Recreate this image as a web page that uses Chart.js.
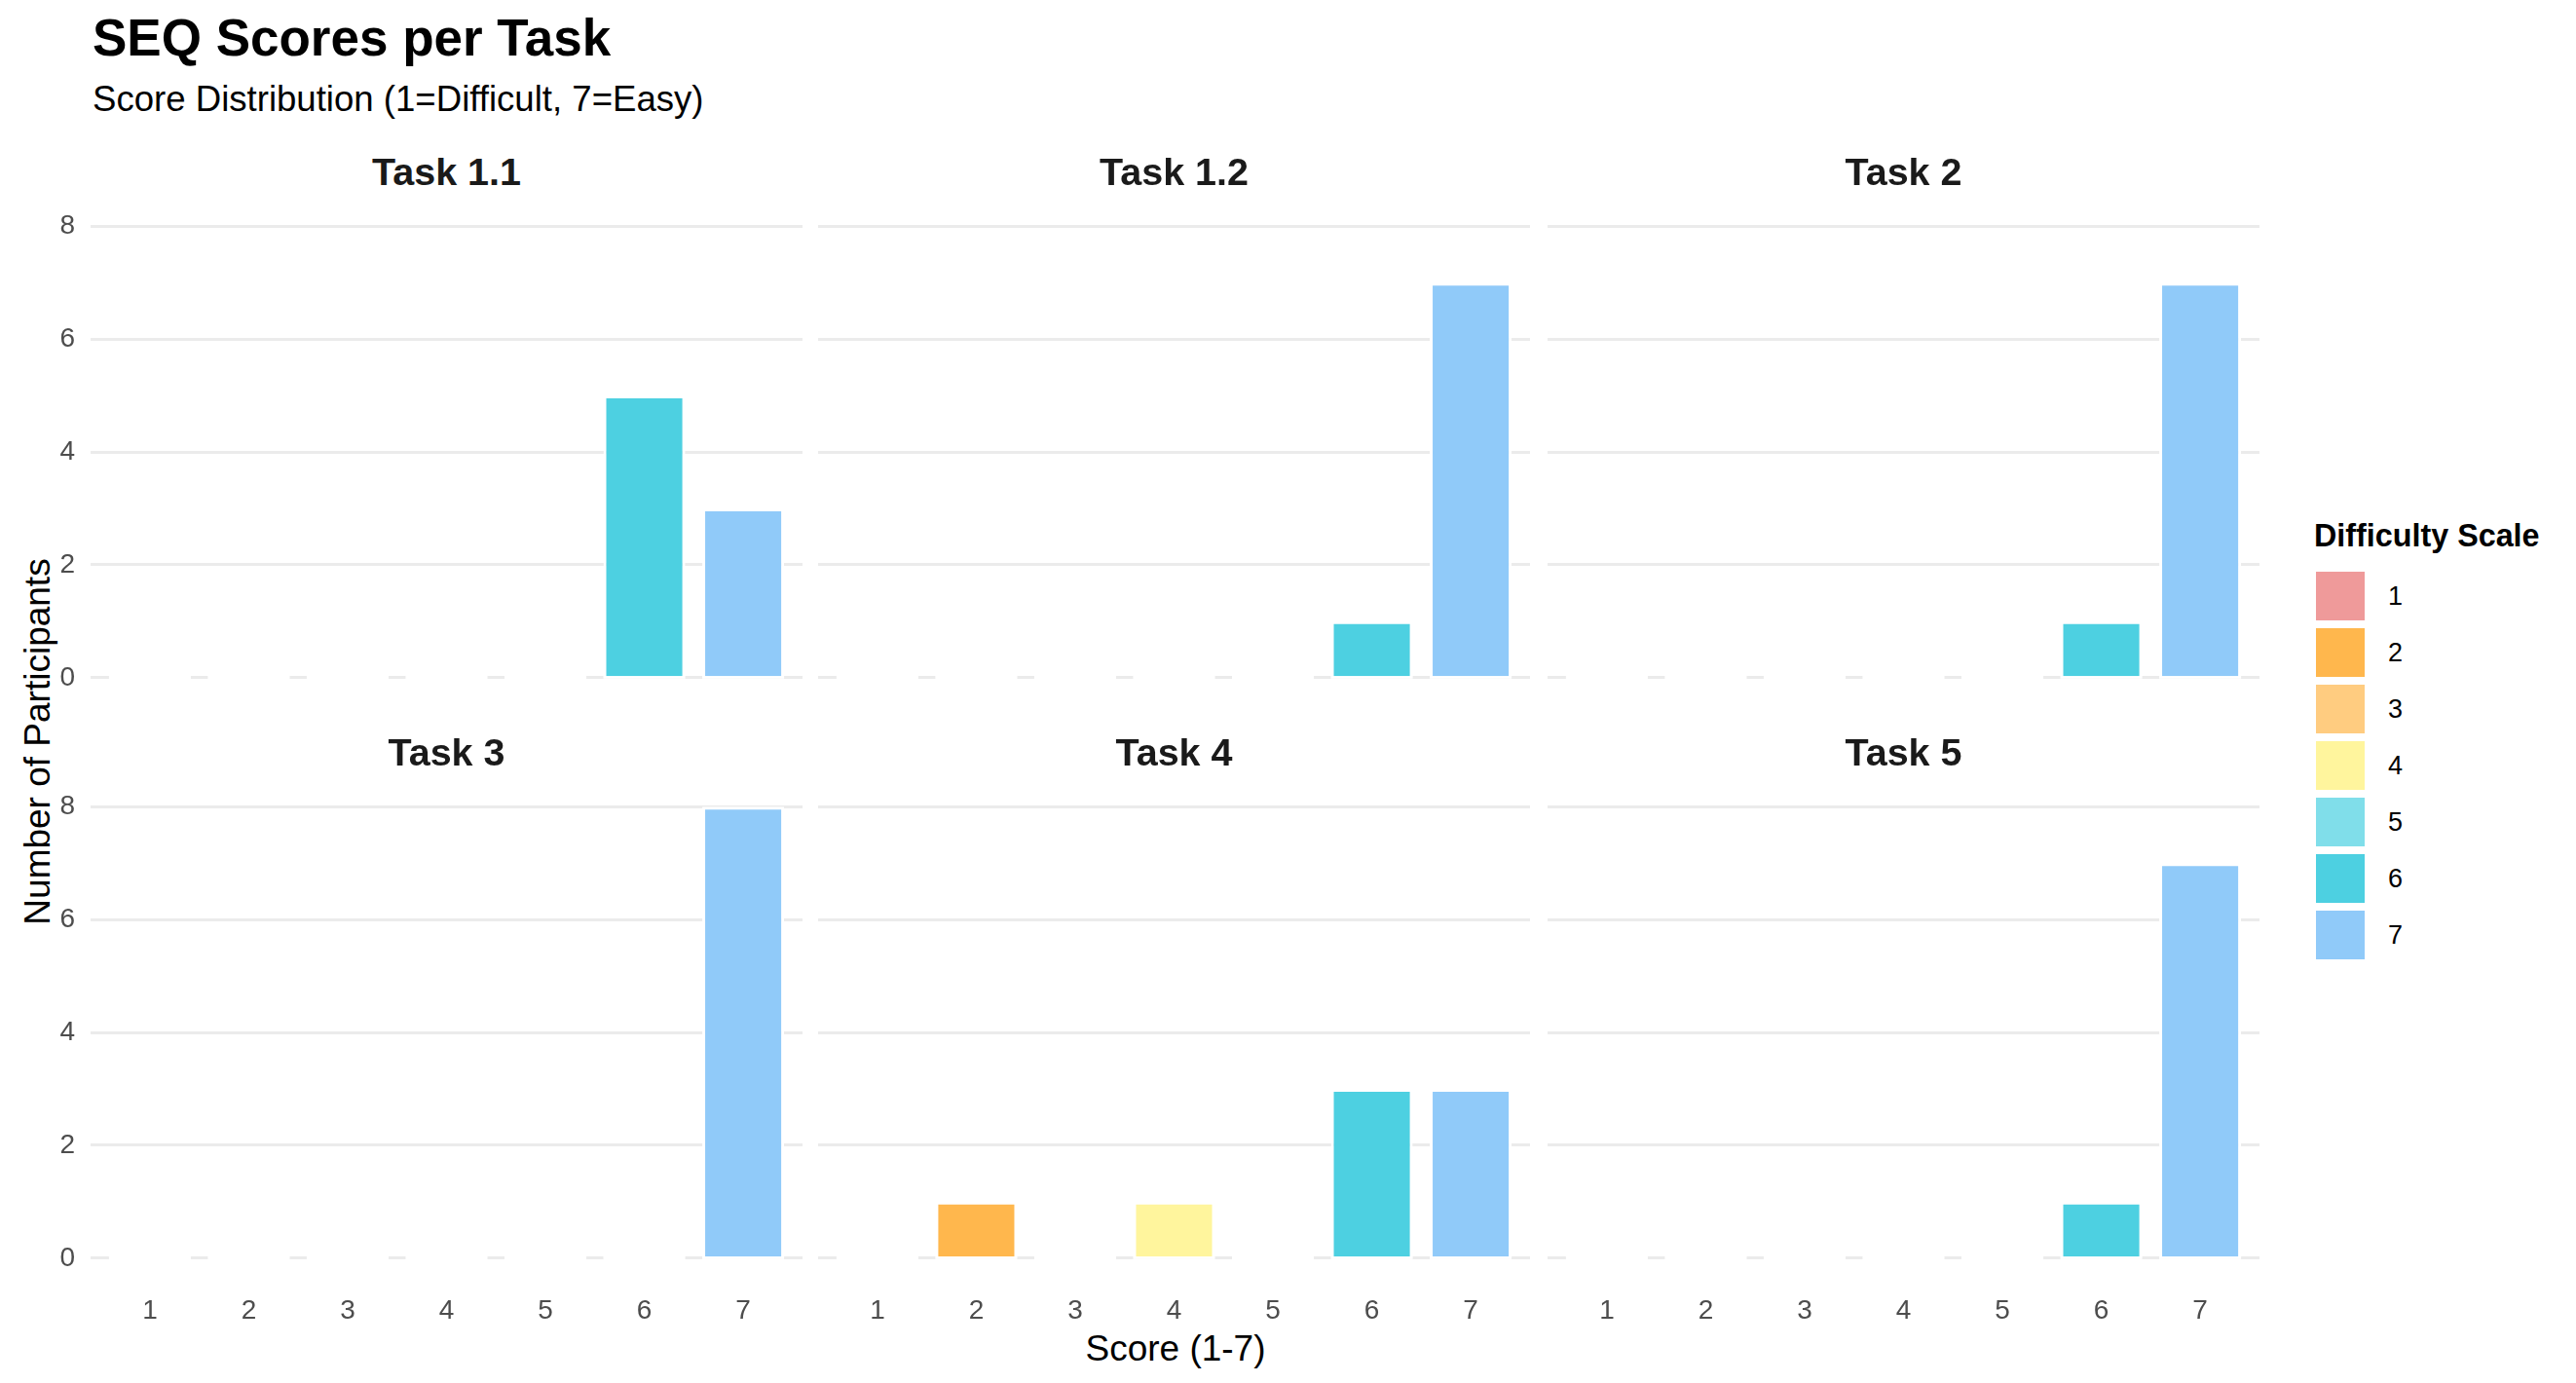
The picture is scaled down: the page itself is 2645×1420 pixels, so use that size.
<!DOCTYPE html>
<html lang="en">
<head>
    <meta charset="UTF-8">
    <title>SEQ Scores per Task</title>
    <script src="https://cdn.jsdelivr.net/npm/chart.js@4.4.1/dist/chart.umd.min.js"></script>
    <style>
        body {
            margin: 0;
            width: 2645px;
            height: 1420px;
            overflow: hidden;
            background: #ffffff;
            font-family: 'Liberation Sans', Arial, sans-serif;
            position: relative;
        }
        .txt {
            position: absolute;
            line-height: 1;
            white-space: nowrap;
        }
        .title { left: 95px; top: 12px; font-size: 53px; font-weight: bold; color: #000; }
        .subtitle { left: 95px; top: 84px; font-size: 36.6px; color: #000; }
        .strip { font-size: 39.5px; font-weight: bold; color: #1a1a1a; text-align: center; width: 731px; }
        .xtitle { font-size: 37px; color: #000; text-align: center; width: 1000px; left: 707px; top: 1366px; }
        .ytitle { font-size: 37px; color: #000; text-align: center; width: 800px; left: -362px; top: 743px; transform: rotate(-90deg); }
        .legend-title { left: 2376px; top: 534px; font-size: 32.3px; font-weight: bold; color: #000; }
        .key { position: absolute; width: 50px; height: 50px; left: 2378px; }
        .key-label { font-size: 27px; color: #000; left: 2452px; }
        canvas { position: absolute; }
    </style>
</head>
<body>
    <div class="txt title">SEQ Scores per Task</div>
    <div class="txt subtitle">Score Distribution (1=Difficult, 7=Easy)</div>
    <div class="txt xtitle">Score (1-7)</div>
    <div class="txt ytitle">Number of Participants</div>
    <div class="txt legend-title">Difficulty Scale</div>
    <div id="legend"></div>
    <div id="panels"></div>

    <script>
        // data
        const SCORES = [1, 2, 3, 4, 5, 6, 7];
        const TASKS = ['Task 1.1', 'Task 1.2', 'Task 2', 'Task 3', 'Task 4', 'Task 5'];
        const TASK_1_1 = [0, 0, 0, 0, 0, 5, 3];
        const TASK_1_2 = [0, 0, 0, 0, 0, 1, 7];
        const TASK_2 = [0, 0, 0, 0, 0, 1, 7];
        const TASK_3 = [0, 0, 0, 0, 0, 0, 8];
        const TASK_4 = [0, 1, 0, 1, 0, 3, 3];
        const TASK_5 = [0, 0, 0, 0, 0, 1, 7];
        const Y_TICKS = [0, 2, 4, 6, 8];
        const SCORE_COLORS = ['#EF9A9A', '#FFB74D', '#FFCC80', '#FFF59D', '#80DEEA', '#4DD0E1', '#90CAF9'];

        const COUNTS = [TASK_1_1, TASK_1_2, TASK_2, TASK_3, TASK_4, TASK_5];

        // panel geometry
        const PANEL_LEFT = [93, 840, 1589];
        const PANEL_TOP = [209, 805];
        const PANEL_W = 731;
        const PANEL_H = 510;
        const YW = 80, XH = 70, PADT = 50, PADR = 20;
        const TICK_FONT = { family: "'Liberation Sans', Arial, sans-serif", size: 28 };

        // white strip under each bar, hides the zero gridline like the bar outline does
        const baseCover = {
            id: 'baseCover',
            beforeDatasetsDraw(chart) {
                const ctx = chart.ctx;
                const meta = chart.getDatasetMeta(0);
                ctx.save();
                ctx.fillStyle = '#ffffff';
                meta.data.forEach(bar => {
                    const p = bar.getProps(['x', 'base', 'width'], true);
                    ctx.fillRect(p.x - p.width / 2, p.base - 2.5, p.width, 5);
                });
                ctx.restore();
            }
        };

        const panels = document.getElementById('panels');
        TASKS.forEach((task, i) => {
            const row = Math.floor(i / 3), col = i % 3;
            const left = PANEL_LEFT[col], top = PANEL_TOP[row];

            const strip = document.createElement('div');
            strip.className = 'txt strip';
            strip.style.left = left + 'px';
            strip.style.top = (top - 33 - 19.3) + 'px';
            strip.textContent = task;
            panels.appendChild(strip);

            const canvas = document.createElement('canvas');
            canvas.width = YW + PANEL_W + PADR;
            canvas.height = PADT + PANEL_H + XH;
            canvas.style.left = (left - YW) + 'px';
            canvas.style.top = (top - PADT) + 'px';
            panels.appendChild(canvas);

            new Chart(canvas, {
                type: 'bar',
                data: {
                    datasets: [{
                        data: SCORES.map((s, k) => ({ x: s, y: COUNTS[i][k] })),
                        backgroundColor: SCORES.map(s => SCORE_COLORS[s - 1]),
                        borderColor: '#ffffff',
                        borderWidth: 3,
                        barPercentage: 0.828,
                        categoryPercentage: 1
                    }]
                },
                options: {
                    responsive: false,
                    animation: false,
                    events: [],
                    layout: { padding: { top: PADT, right: PADR, left: 0, bottom: 0 } },
                    plugins: { legend: { display: false }, tooltip: { enabled: false } },
                    scales: {
                        x: {
                            type: 'linear',
                            min: 0.4,
                            max: 7.6,
                            offset: false,
                            afterBuildTicks: s => { s.ticks = SCORES.map(v => ({ value: v })); },
                            afterFit: s => { s.height = XH; },
                            grid: { display: false, offset: false },
                            border: { display: false },
                            ticks: { display: row === 1, font: TICK_FONT, color: '#4D4D4D', padding: 6, maxRotation: 0 }
                        },
                        y: {
                            type: 'linear',
                            min: -0.4,
                            max: 8.4,
                            afterBuildTicks: s => { s.ticks = Y_TICKS.map(v => ({ value: v })); },
                            afterFit: s => { s.width = YW; },
                            grid: { color: '#EBEBEB', lineWidth: 3, drawTicks: false },
                            border: { display: false },
                            ticks: { display: col === 0, font: TICK_FONT, color: '#4D4D4D', padding: 16 }
                        }
                    }
                },
                plugins: [baseCover]
            });
        });

        // legend
        const legend = document.getElementById('legend');
        SCORES.forEach((s, k) => {
            const top = 587 + k * 58;
            const key = document.createElement('div');
            key.className = 'key';
            key.style.top = top + 'px';
            key.style.background = SCORE_COLORS[k];
            legend.appendChild(key);
            const lab = document.createElement('div');
            lab.className = 'txt key-label';
            lab.style.top = (top + 25 - 13.2) + 'px';
            lab.textContent = s;
            legend.appendChild(lab);
        });
    </script>
</body>
</html>
